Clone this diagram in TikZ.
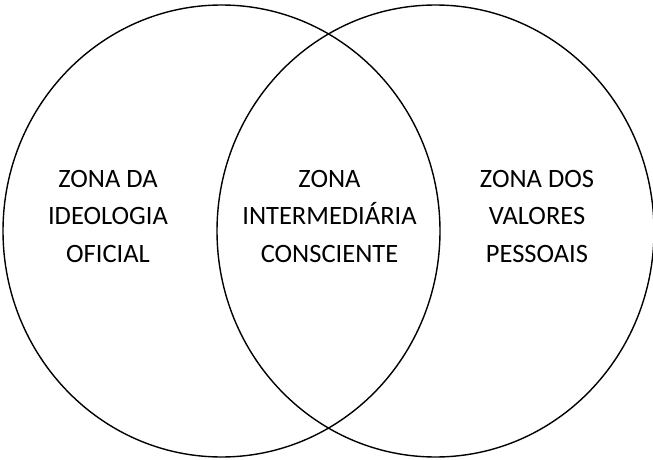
\documentclass[tikz,border=0pt]{standalone}
\usepackage{fontspec}
\setmainfont{Carlito}
\usepackage{tikz}
\newcommand{\zona}[3]{%
  \node[zonatxt] (#1) at (#2,197) {#3};%
}
\tikzset{
  zonatxt/.style={anchor=base,align=center,inner sep=0pt,
    font=\fontsize{26.5}{37.5}\selectfont},
  circulo/.style={draw=black,line width=1.4pt}
}

\begin{document}
\begin{tikzpicture}[x=1pt,y=1pt]
  \useasboundingbox (0,0) rectangle (653,459);
  \draw[circulo] (221.5,228) ellipse [x radius=218.5,y radius=226];
  \draw[circulo] (435.5,228) ellipse [x radius=218.5,y radius=226];
  \zona{oficial}{108}{ZONA DA\\IDEOLOGIA\\OFICIAL}
  \zona{consciente}{329.5}{ZONA\\INTERMEDIÁRIA\\CONSCIENTE}
  \zona{pessoais}{537}{ZONA DOS\\VALORES\\PESSOAIS}
\end{tikzpicture}
\end{document}
